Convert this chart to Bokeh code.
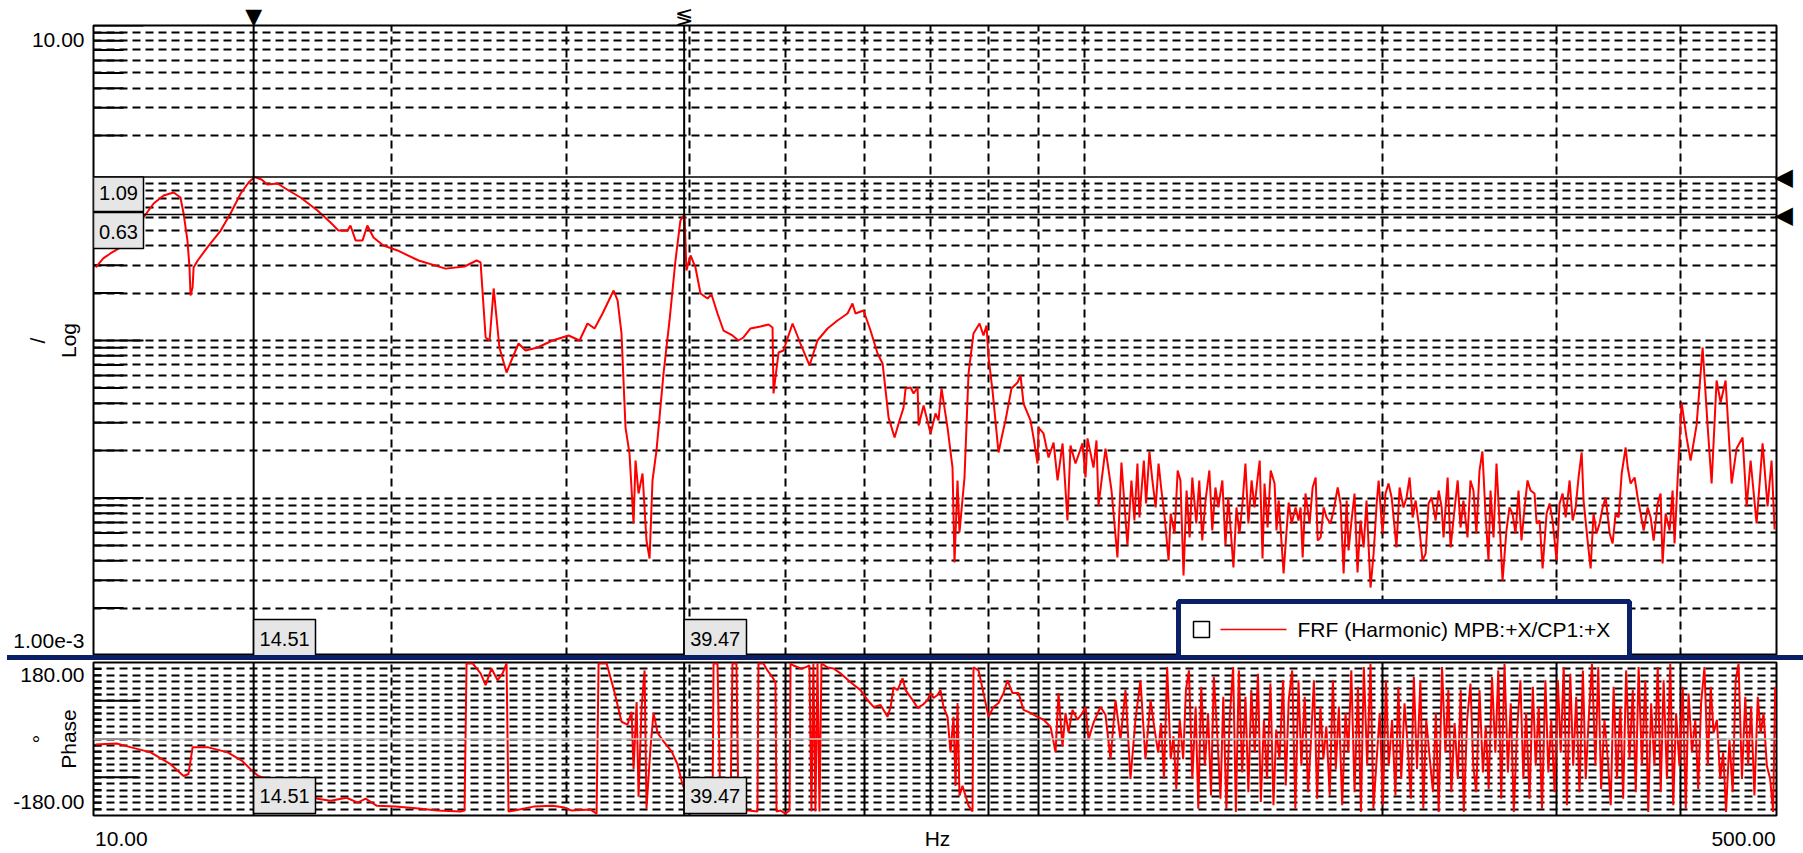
import math
from bokeh.plotting import figure
from bokeh.models import (Range1d, FixedTicker, Span, Label, BoxAnnotation, Arrow,
                          Div, Grid, ColumnDataSource, LogAxis)
from bokeh.layouts import column
from bokeh.embed import file_html
from bokeh.resources import INLINE

FONT = "Liberation Sans"
NAVY = "#0b1f66"

# ---------------- data ----------------
mag_freq_a = [10.05, 10.23, 10.40, 10.65, 10.97, 11.23, 11.50, 11.77, 12.05, 12.24,
              12.33, 12.44, 12.50, 12.53, 12.59, 12.62, 12.74, 13.03, 13.44, 13.75,
              14.08, 14.34, 14.54, 14.78, 14.98, 15.34, 15.74, 16.18, 16.83, 17.35,
              17.67, 18.05, 18.17, 18.39, 18.69, 18.90, 19.17, 19.62, 20.27, 21.29,
              22.67, 23.69, 24.36, 24.59, 24.88, 25.11, 25.35, 25.69, 26.12, 26.49,
              26.86, 27.30, 28.07, 29.07, 30.17, 30.95, 31.53, 32.05, 32.65, 33.50,
              33.81, 34.12, 34.44, 34.76, 35.09, 35.25, 35.50, 35.83, 36.16, 36.42,
              36.67, 37.01, 37.27, 37.62, 38.15, 38.68, 39.13, 39.50, 39.68, 40.06]
mag_val_a = [0.291, 0.332, 0.357, 0.390, 0.432, 0.604, 0.741, 0.833, 0.870, 0.809,
             0.640, 0.432, 0.291, 0.193, 0.217, 0.291, 0.322, 0.390, 0.499, 0.640,
             0.858, 1.007, 1.09, 1.052, 0.978, 0.993, 0.896, 0.809, 0.669, 0.561,
             0.499, 0.499, 0.537, 0.432, 0.432, 0.537, 0.451, 0.401, 0.373, 0.322,
             0.286, 0.295, 0.322, 0.313, 0.1045, 0.100, 0.214, 0.0903, 0.0626, 0.0780,
             0.0957, 0.0864, 0.0903, 0.100, 0.1076, 0.100, 0.1282, 0.1192, 0.1484, 0.2077,
             0.1795, 0.1108, 0.0280, 0.0192, 0.00689, 0.0173, 0.01068, 0.01431, 0.00537, 0.00413,
             0.01292, 0.0200, 0.0324, 0.0617, 0.134, 0.322, 0.578, 0.63, 0.278, 0.347]

mag_freq_b = [40.52, 41.00, 41.67, 42.06, 42.65, 43.25, 44.16, 44.78, 45.30, 46.05,
              47.13, 48.02, 48.47, 48.58, 49.15, 49.72, 50.78, 51.72, 52.82, 53.81,
              55.08, 56.37, 57.70, 58.37, 58.78, 59.89, 60.87, 61.87, 62.60, 63.48,
              64.37, 64.97, 65.73, 66.04, 66.81, 67.28, 67.91, 68.07, 68.86, 69.99,
              70.79, 71.29, 71.79, 72.80, 73.65, 73.99, 74.51, 74.85, 75.73, 76.44,
              77.33, 78.42, 79.15, 79.71, 80.08, 80.83, 81.96, 82.73, 83.30, 84.47,
              85.66, 86.26, 86.87, 88.29, 88.91, 89.74, 89.95, 91.00, 92.07, 93.15,
              94.02, 95.12, 96.21, 96.89, 98.02, 99.63, 100.33, 100.79, 102.21, 102.92,
              103.40, 105.10, 106.58, 108.06, 109.07, 110.60, 111.63, 112.41, 113.20, 113.73]
mag_val_b = [0.291, 0.1988, 0.1848, 0.1959, 0.1484, 0.1157, 0.1076, 0.100, 0.1045, 0.1192,
             0.1227, 0.1263, 0.1209, 0.0461, 0.0839, 0.0864, 0.1282, 0.0957, 0.0694, 0.100,
             0.1192, 0.1340, 0.1484, 0.1717, 0.1484, 0.1550, 0.1157, 0.0827, 0.0715, 0.0324,
             0.0242, 0.0297, 0.0375, 0.0496, 0.0503, 0.0461, 0.0503, 0.0289, 0.0387, 0.0257,
             0.0344, 0.0311, 0.0496, 0.0280, 0.0156, 0.00390, 0.01292, 0.00604, 0.0135, 0.0617,
             0.1108, 0.1282, 0.1076, 0.1245, 0.0780, 0.0481, 0.01945, 0.0257, 0.0311, 0.0496,
             0.0541, 0.0600, 0.0398, 0.0311, 0.0242, 0.01656, 0.0280, 0.0257, 0.01807, 0.0225,
             0.01292, 0.0222, 0.00720, 0.0215, 0.01656, 0.0222, 0.0135, 0.0239, 0.0156, 0.0232,
             0.00896, 0.0206, 0.01116, 0.00419, 0.01680, 0.00499, 0.01292, 0.00720, 0.01656, 0.00752]

mag_freq_c = [114.9, 115.5, 116.4, 117.2, 118.1, 118.9, 119.7, 120.6, 121.7, 122.3,
              123.4, 124.3, 125.1, 126.0, 126.9, 127.8, 128.6, 129.8, 130.7, 131.6,
              132.6, 133.8, 134.7, 135.7, 136.6, 137.9, 138.9, 139.8, 141.5, 142.5,
              143.5, 144.5, 145.5, 146.5, 147.6, 148.6, 149.7, 150.4, 151.4, 152.1,
              153.2, 154.3, 155.7, 156.4, 157.2, 159.0, 160.1, 160.9, 162.0, 163.5,
              164.6, 165.4, 166.2, 167.3, 168.9, 170.1, 171.3, 172.1, 173.3, 174.5,
              175.7, 177.3, 178.6, 180.3, 181.5, 182.8, 184.1, 184.9, 186.2, 187.5,
              188.8, 190.1, 191.5, 192.8, 194.6, 196.0, 197.4, 198.3, 200.1, 201.5,
              202.9, 204.4, 206.7, 208.2, 210.1, 211.6, 213.1, 214.6, 216.1, 218.1,
              219.6, 221.2, 222.7, 224.3, 226.4, 228.0, 229.6, 230.6, 232.8, 234.4,
              236.1, 238.3, 239.9, 241.5, 243.8, 245.5, 247.2, 248.9, 250.7, 252.4,
              254.2, 256.0, 257.2, 259.0, 260.8, 262.6, 264.5, 266.9, 268.8, 270.7,
              272.6, 274.5, 276.4, 278.4, 280.3, 282.3, 284.9, 286.3, 288.3, 290.3,
              293.0, 295.1, 297.1, 299.9, 302.0, 304.1, 306.3, 309.1, 311.3, 313.5,
              315.6, 317.9, 319.3, 322.3, 324.6, 326.8, 329.1, 331.4, 333.8, 336.1,
              339.3, 341.6, 344.0, 346.4, 348.9, 352.1, 353.8, 356.2, 359.5, 362.1,
              364.6, 367.2, 370.6, 373.2, 375.8, 379.3, 381.9, 383.7, 386.4, 390.0,
              392.7, 394.5, 397.3]
mag_val_c = [0.01730, 0.00923, 0.01974, 0.01292, 0.00871, 0.01656, 0.01116, 0.00752, 0.00401, 0.00797,
             0.00595, 0.01495, 0.01292, 0.00322, 0.01116, 0.00562, 0.01350, 0.00689, 0.01292, 0.00537,
             0.00964, 0.01495, 0.00622, 0.01166, 0.00871, 0.01292, 0.00499, 0.01007, 0.00362, 0.00871,
             0.00595, 0.00923, 0.01656, 0.00689, 0.01292, 0.00871, 0.01350, 0.01730, 0.00413, 0.01236,
             0.00650, 0.01495, 0.01236, 0.00622, 0.00964, 0.00332, 0.00622, 0.00936, 0.00689, 0.00871,
             0.00720, 0.00871, 0.00419, 0.01068, 0.00689, 0.01166, 0.01350, 0.00537, 0.00562, 0.00871,
             0.00752, 0.00689, 0.00833, 0.01166, 0.00923, 0.00332, 0.00964, 0.00464, 0.00720, 0.01068,
             0.00337, 0.00720, 0.00485, 0.00964, 0.00270, 0.00444, 0.00923, 0.01292, 0.00595, 0.01068,
             0.01236, 0.01007, 0.00485, 0.01166, 0.00871, 0.01007, 0.01350, 0.00752, 0.00964, 0.00622,
             0.00401, 0.00444, 0.00923, 0.01007, 0.00720, 0.01116, 0.00871, 0.00562, 0.01350, 0.00485,
             0.00752, 0.01292, 0.00650, 0.00964, 0.00562, 0.01292, 0.01116, 0.00595, 0.01495, 0.01974,
             0.00797, 0.00401, 0.01116, 0.00562, 0.01656, 0.00720, 0.00299, 0.00622, 0.00871, 0.00797,
             0.00595, 0.01116, 0.00537, 0.00871, 0.01292, 0.01116, 0.01068, 0.00689, 0.00720, 0.00357,
             0.00797, 0.00923, 0.00720, 0.00401, 0.00923, 0.01068, 0.00752, 0.01292, 0.00720, 0.00871,
             0.01350, 0.01945, 0.00964, 0.00537, 0.00357, 0.00797, 0.00595, 0.00689, 0.00871, 0.01007,
             0.00595, 0.00514, 0.00797, 0.00752, 0.01431, 0.02092, 0.01562, 0.01236, 0.01350, 0.01007,
             0.00797, 0.00622, 0.00871, 0.00752, 0.00537, 0.00923, 0.01068, 0.00384, 0.00797, 0.00622,
             0.01116, 0.00514, 0.01292]

mag_freq_d = [401.0, 405.7, 409.5, 415.2, 421.1, 426.0, 430.0, 435.0, 439.1, 444.2,
              450.5, 455.7, 462.1, 466.5, 470.8, 477.4, 484.1, 489.7, 494.3, 497.8]
mag_val_d = [0.0404, 0.0242, 0.0173, 0.0289, 0.0903, 0.0289, 0.01236, 0.0557, 0.0404, 0.0557,
             0.01236, 0.0206, 0.0242, 0.00883, 0.0173, 0.00689, 0.0222, 0.00883, 0.0173, 0.00631]

ph_freq_a = [10.05, 10.55, 10.92, 11.42, 11.96, 12.33, 12.47, 12.59, 13.06, 13.66,
             14.14, 14.47, 14.67, 15.19, 15.81, 16.83, 17.35, 18.01, 18.48, 18.82,
             19.31, 20.18, 21.29, 22.25, 23.47, 23.69, 23.80, 24.14, 24.59, 24.88,
             25.22, 25.58, 25.88, 26.12, 26.24, 26.61, 27.81, 29.07, 29.89, 30.38,
             31.75, 32.20, 32.35, 32.65, 32.96, 33.57, 34.12, 34.60, 34.93, 35.09,
             35.34, 35.50, 35.75, 36.00, 36.16, 36.50, 36.76, 37.10, 37.62, 38.33,
             38.86, 39.31, 40.06, 41.00, 42.16, 42.26, 42.65, 42.95, 43.96, 44.16,
             44.57, 44.78, 45.83, 46.80, 46.91, 47.46, 47.90, 48.47, 48.80, 48.92,
             49.38, 49.95, 50.42, 50.54, 50.89, 51.72, 52.32, 52.81, 53.06, 53.30,
             53.55, 53.81, 54.06, 54.31, 55.08, 55.85, 56.76, 58.10, 59.48, 60.45,
             61.30, 62.31, 63.33, 63.78, 64.22, 64.82, 65.57, 66.04, 67.12, 67.91,
             68.70, 69.50, 69.99, 70.46, 71.12, 71.62, 72.12, 72.80, 73.31, 73.82,
             74.17, 74.51, 74.85, 75.38, 75.91, 76.44, 77.15, 77.33, 78.24, 79.15,
             80.08, 81.02, 81.96, 82.92, 83.69, 84.67, 85.86, 86.87, 88.29, 89.74,
             91.00, 92.50, 93.58, 94.22, 95.10, 95.77, 96.44, 97.34, 98.48, 99.63,
             100.33, 101.03, 102.21, 103.89, 105.10, 106.33, 107.57, 108.82, 110.10, 111.38,
             112.68, 114.00, 115.33]
ph_val_a = [-12.8, -10.5, -19.7, -31.4, -59.2, -87.1, -82.4, -19.7, -19.7, -31.4,
            -52.3, -75.5, -87.1, -98.7, -117.3, -140.5, -145.2, -138.2, -149.8, -140.5,
            -156.8, -159.1, -163.7, -168.4, -170.7, -168.4, 178.0, 177.7, 154.5, 126.6,
            166.0, 138.2, 154.5, 178.0, -170.7, -168.4, -159.1, -156.8, -161.4, -168.4,
            -166.1, -175.4, 178.0, 177.7, 177.7, 110.3, 40.6, 33.7, 63.9, -70.8,
            87.1, -135.9, 73.2, 161.4, -163.7, -19.7, 61.5, 15.1, -5.8, -29.0,
            -59.2, -105.7, -154.5, -163.7, -166.1, 177.7, 177.7, -168.4, -168.4, 177.7,
            177.7, -168.4, -168.4, -170.7, 177.7, 177.7, 161.4, 145.2, 133.5, -170.7,
            -168.4, -175.4, -168.4, 177.7, 173.0, 166.0, 168.4, 173.0, -170.7, 177.7,
            -170.7, 177.7, -170.7, 177.7, 168.4, 166.0, 154.5, 133.5, 115.0, 91.7,
            75.5, 80.1, 52.3, 75.5, 121.9, 115.0, 142.8, 115.0, 91.7, 73.2,
            80.1, 91.7, 108.0, 96.4, 103.4, 115.0, 75.5, 52.3, -31.4, 52.3,
            -110.3, 84.8, -133.5, -110.3, -133.5, -156.8, -170.7, 168.4, 161.4, 108.0,
            52.3, 75.5, 84.8, 108.0, 138.2, 108.0, 108.0, 68.5, 61.5, 52.3,
            45.3, 29.0, -31.4, 108.0, -17.4, 61.5, 15.1, 68.5, 45.3, 61.5,
            75.5, -1.2, 38.3, 75.5, 56.9, -47.6, 91.7, -1.2, 115.0, -94.1,
            45.3, 138.2, -47.6]

ph_freq_b = [116.7, 117.8, 118.8, 119.6, 120.4, 121.3, 122.3, 123.1, 123.9, 124.9,
             125.9, 126.7, 127.6, 128.6, 129.6, 130.4, 131.3, 132.4, 133.4, 134.3,
             135.2, 136.3, 137.3, 138.2, 139.2, 140.3, 141.4, 142.3, 143.3, 144.4,
             145.5, 146.5, 147.5, 148.7, 149.8, 150.8, 151.9, 153.0, 154.2, 155.3,
             156.3, 157.5, 158.8, 159.8, 160.9, 162.2, 163.4, 164.6, 165.7, 167.0,
             168.3, 169.4, 170.6, 171.9, 173.2, 174.4, 175.6, 177.0, 178.3, 179.5,
             180.8, 182.2, 183.6, 184.8, 186.1, 187.5, 189.0, 190.3, 191.6, 193.1,
             194.6, 195.9, 197.2, 198.8, 200.3, 201.7, 203.0, 204.6, 206.2, 207.6,
             209.0, 210.6, 212.3, 213.7, 215.2, 216.8, 218.5, 220.0, 221.5, 223.2,
             225.0, 226.5, 228.0, 229.8, 231.6, 233.2, 234.8, 236.6, 238.4, 240.0,
             241.7, 243.6, 245.5, 247.1, 248.8, 250.7, 252.7, 254.4, 256.1, 258.1,
             260.1, 261.9, 263.7, 265.7, 267.8, 269.6, 271.5, 273.6, 275.7, 277.6,
             279.4, 281.6, 283.8, 285.7, 287.7, 289.9, 292.2, 294.2, 296.2, 298.5,
             300.8, 302.8, 304.9, 307.2, 309.6, 311.7, 313.9, 316.3, 318.8, 320.9,
             323.1, 325.6, 328.2, 330.4, 332.6, 335.2, 337.8, 340.1, 342.4, 345.1,
             347.8, 350.1, 352.5, 355.3, 358.0, 360.5, 362.9, 365.7, 368.6, 371.1,
             373.6, 376.5, 379.4, 382.0, 384.6, 387.6, 390.6, 393.3, 395.9, 399.0,
             402.1, 404.9, 407.6, 410.8, 414.0, 416.8, 419.6, 422.9, 426.2, 429.1,
             432.0, 435.3, 438.7, 441.7, 444.7, 448.2, 451.6, 454.7, 457.8, 461.4,
             465.0, 468.1, 471.3, 475.0, 478.7, 481.9, 485.2, 488.9, 492.7, 496.1,
             498.5]
ph_val_b = [91.7, 22.0, -32.1, 37.5, -94.1, 169.2, -47.6, 6.6, -117.3, 45.3,
            -47.6, 115.0, 161.4, -94.1, 76.3, -163.8, 122.7, -63.1, 60.8, -132.8,
            146.0, 6.6, -140.5, 99.5, -163.8, 53.0, 169.2, -171.5, 161.4, -78.6,
            99.5, -125.0, 115.0, -32.1, 153.7, -148.3, 45.3, -94.1, 130.5, -156.0,
            22.0, -47.6, 138.2, -109.6, 91.7, 161.4, -163.8, 138.2, -63.1, 99.5,
            -125.0, -8.9, 138.2, -140.5, 76.3, -47.6, 29.8, -132.8, 138.2, -70.9,
            76.3, -156.0, 60.8, -32.1, 161.4, -125.0, 122.7, -171.5, 169.2, -63.1,
            177.0, -163.8, -63.1, 60.8, -156.0, 138.2, -63.1, 45.3, -132.8, 122.7,
            -94.1, 84.0, -24.4, -140.5, 146.0, -70.9, 138.2, -163.8, 45.3, -39.9,
            -125.0, 60.8, -171.5, 169.2, -32.1, 115.0, -125.0, 37.5, -94.1, 115.0,
            -171.5, 45.3, 130.5, -63.1, -125.0, 115.0, -78.6, 29.8, -117.3, 146.0,
            -32.1, 161.4, -140.5, 177.0, -78.6, 84.0, -171.5, 22.0, 138.2, -94.1,
            60.8, -140.5, 122.7, -63.1, 76.3, -163.8, 138.2, -78.6, 45.3, -125.0,
            138.2, -32.1, 169.2, -156.0, 153.7, -63.1, 99.5, -125.0, 161.4, -94.1,
            45.3, 177.0, -63.1, 169.2, -117.3, 45.3, -47.6, -156.0, 122.7, -94.1,
            76.3, -140.5, 161.4, -47.6, 115.0, -125.0, 169.2, -63.1, 138.2, -171.5,
            84.0, -63.1, 169.2, -125.0, 138.2, -94.1, 177.0, -156.0, 60.8, -63.1,
            122.7, -163.8, 107.2, -32.1, 45.3, -117.3, 84.0, 169.2, -63.1, 122.7,
            14.3, 45.3, -94.1, -32.1, -171.5, -1.2, -125.0, 138.2, 177.0, -94.1,
            99.5, -63.1, 76.3, -132.8, 99.5, 14.3, 60.8, -63.1, -94.1, -171.5,
            122.7]

cursor_x = [14.51, 39.47]
cursor_y = [1.09, 0.63]
legend_text = "FRF (Harmonic) MPB:+X/CP1:+X"

# ---------------- assemble ----------------
def pair(f, v):
    n = min(len(f), len(v))
    return list(f[:n]), list(v[:n])

mf, mv = [], []
for f, v in ((mag_freq_a, mag_val_a), (mag_freq_b, mag_val_b),
             (mag_freq_c, mag_val_c), (mag_freq_d, mag_val_d)):
    a, b = pair(f, v)
    mf += a
    mv += b
pf, pv = [], []
for f, v in ((ph_freq_a, ph_val_a), (ph_freq_b, ph_val_b)):
    a, b = pair(f, v)
    pf += a
    pv += b

mag_src = ColumnDataSource(dict(f=mf, m=mv))
ph_src = ColumnDataSource(dict(f=pf, p=pv))

W = 1803
XGRID = [20, 30, 40, 50, 60, 70, 80, 90, 100, 200, 300, 400]
XGRID_PH_DASH = [20, 30, 40]
XGRID_PH_SOLID = [50, 60, 70, 80, 90, 100, 200, 300, 400]
MAG_GRID = [k * 10.0 ** d for d in (-3, -2, -1, 0) for k in range(1, 10)] + [10.0]
PH_GRID = list(range(-165, 180, 15))


def style(p):
    p.outline_line_color = "black"
    p.outline_line_width = 2
    p.background_fill_color = "white"
    p.border_fill_color = "white"


def plain_axis(ax, size="21px", font=FONT, standoff=9):
    ax.major_tick_in = 0
    ax.major_tick_out = 0
    ax.minor_tick_in = 0
    ax.minor_tick_out = 0
    ax.axis_line_color = None
    ax.major_label_standoff = standoff
    ax.major_label_text_font = font
    ax.major_label_text_font_size = size
    ax.major_label_text_color = "black"


def name_axis(ax, text, standoff, line_height):
    ax.axis_label = text
    ax.axis_label_standoff = standoff
    ax.axis_label_text_font = FONT
    ax.axis_label_text_font_size = "21px"
    ax.axis_label_text_font_style = "normal"
    ax.axis_label_text_color = "black"
    ax.axis_label_text_line_height = line_height


def box(p, left, right, top, bottom, lu="screen", ru="screen", tu="screen", bu="screen",
        color="black", width=1.5, fill="#e6e6e6"):
    p.add_layout(BoxAnnotation(left=left, right=right, top=top, bottom=bottom,
                               left_units=lu, right_units=ru, top_units=tu, bottom_units=bu,
                               fill_color=fill, fill_alpha=1.0, line_color=color,
                               line_width=width, line_alpha=1.0))


TXT = dict(text_font=FONT, text_font_size="20px", text_color="black",
           text_align="center", text_baseline="middle")

# ---------------- magnitude panel ----------------
top = figure(width=W, height=655, x_axis_type="log", y_axis_type="log",
             x_range=Range1d(10, 500), y_range=Range1d(1e-3, 10),
             x_axis_location=None, output_backend="svg", toolbar_location=None,
             min_border_left=93, min_border_right=27, min_border_top=25, min_border_bottom=0)
style(top)
top.add_layout(Grid(dimension=0, ticker=FixedTicker(ticks=XGRID), grid_line_color="black",
                    grid_line_width=2, grid_line_dash="8 5"))
top.ygrid.ticker = FixedTicker(ticks=MAG_GRID)
top.ygrid.grid_line_color = "black"
top.ygrid.grid_line_width = 2
top.ygrid.grid_line_dash = "8 5"

ylab_top = [8.149, 0.001245]
ax_top = top.yaxis[0]
ax_top.ticker = FixedTicker(ticks=ylab_top)
ax_top.major_label_overrides = {8.149: "10.00", 0.001245: "1.00e-3"}
plain_axis(ax_top)
name_axis(ax_top, "/\nLog", -70, 1.35)

# cursor markers outside the frame, drawn as tick labels of extra axes
above = LogAxis(ticker=FixedTicker(ticks=cursor_x),
                major_label_overrides={cursor_x[0]: "\u25BC", cursor_x[1]: "\u2276"})
plain_axis(above, size="22px", font="DejaVu Sans", standoff=-3)
top.add_layout(above, "above")
right = LogAxis(ticker=FixedTicker(ticks=cursor_y),
                major_label_overrides={cursor_y[0]: "\u25C0", cursor_y[1]: "\u25C0"})
plain_axis(right, size="24px", font="DejaVu Sans", standoff=-2)
top.add_layout(right, "right")

# interior tick marks on the left edge
tick_len = [50 if abs(math.log10(v) - round(math.log10(v))) < 1e-9 else 30 for v in MAG_GRID]
top.ray(x=[10] * len(MAG_GRID), y=MAG_GRID, length=tick_len, angle=0,
        length_units="screen", line_color="black", line_width=2)

top.line("f", "m", source=mag_src, line_color="red", line_width=2)

for cy in cursor_y:
    top.add_layout(Span(location=cy, dimension="width", line_color="black", line_width=1.5))
for cx in cursor_x:
    top.add_layout(Span(location=cx, dimension="height", line_color="black", line_width=2))

# cursor value boxes
box(top, 10, 50, cursor_y[0], 444, lu="data", tu="data")
top.add_layout(Label(x=10, y=cursor_y[0], x_offset=25, y_offset=-16,
                     text="%.2f" % cursor_y[0], **TXT))
box(top, 10, 50, 443, 407, lu="data")
top.add_layout(Label(x=10, y=cursor_y[1], x_offset=25, y_offset=-17,
                     text="%.2f" % cursor_y[1], **TXT))
for cx, rgt in zip(cursor_x, [222, 653]):
    box(top, cx, rgt, 36, -2, lu="data")
    top.add_layout(Label(x=cx, y=17, x_offset=31, y_units="screen", text="%.2f" % cx, **TXT))

# legend
box(top, 1085, 1536, 54, -3, color=NAVY, width=5, fill="white")
box(top, 1100, 1116, 34, 18, color="black", width=1.5, fill="white")
top.add_layout(Arrow(x_start=1127, y_start=26, x_end=1193, y_end=26,
                     start_units="screen", end_units="screen", start=None, end=None,
                     line_color="red", line_width=1.5))
top.add_layout(Label(x=1204, y=26, x_units="screen", y_units="screen", text=legend_text,
                     text_baseline="middle", text_align="left", text_font=FONT,
                     text_font_size="21px", text_color="black"))

# ---------------- separator ----------------
sep = Div(text="", width=W - 7, height=5, margin=(0, 0, 0, 7),
          styles={"background-color": NAVY})

# ---------------- phase panel ----------------
bot = figure(width=W, height=192, x_axis_type="log",
             x_range=Range1d(10, 500), y_range=Range1d(-180, 180),
             output_backend="svg", toolbar_location=None,
             min_border_left=93, min_border_right=27, min_border_top=2, min_border_bottom=35)
style(bot)
bot.xgrid.ticker = FixedTicker(ticks=XGRID_PH_DASH)
bot.xgrid.grid_line_color = "black"
bot.xgrid.grid_line_width = 2
bot.xgrid.grid_line_dash = "8 5"
bot.add_layout(Grid(dimension=0, ticker=FixedTicker(ticks=XGRID_PH_SOLID),
                    grid_line_color="black", grid_line_width=2))
bot.ygrid.ticker = FixedTicker(ticks=PH_GRID)
bot.ygrid.grid_line_color = "black"
bot.ygrid.grid_line_width = 2
bot.ygrid.grid_line_dash = "8 5"
bot.add_layout(Span(location=0, dimension="width", line_color="#c8c8c8", line_width=1.5))

ph_major = [-90, 0, 90]
bot.ray(x=[10] * len(PH_GRID), y=PH_GRID,
        length=[45 if v in ph_major else 8 for v in PH_GRID], angle=0,
        length_units="screen", line_color="black", line_width=2)

xlab = [10.67, 71.12, 463.1]
ax_bx = bot.xaxis[0]
ax_bx.ticker = FixedTicker(ticks=xlab)
ax_bx.major_label_overrides = {10.67: "10.00", 71.12: "Hz", 463.1: "500.00"}
ylab_bot = [149.8, -147.5]
ax_by = bot.yaxis[0]
ax_by.ticker = FixedTicker(ticks=ylab_bot)
ax_by.major_label_overrides = {149.8: "180.00", -147.5: "-180.00"}
plain_axis(ax_bx, standoff=11)
plain_axis(ax_by, standoff=9)
name_axis(ax_by, "\u00b0\nPhase", -70, 1.25)

bot.line("f", "p", source=ph_src, line_color="red", line_width=2)
for cx, rgt in zip(cursor_x, [222, 653]):
    bot.add_layout(Span(location=cx, dimension="height", line_color="black", line_width=2))
    box(bot, cx, rgt, 38, 2, lu="data")
    bot.add_layout(Label(x=cx, y=20, x_offset=31, y_units="screen", text="%.2f" % cx, **TXT))

layout = column(top, sep, bot, spacing=0)
open("out.html", "w").write(file_html(layout, INLINE))
